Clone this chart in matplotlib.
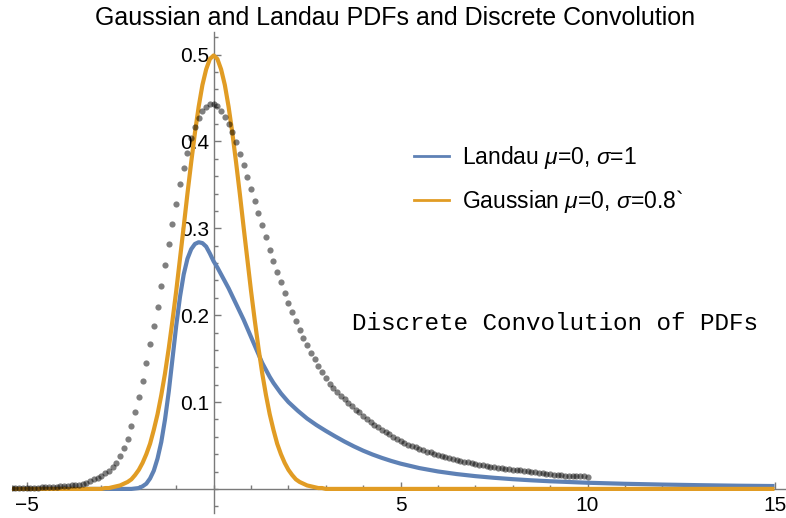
import numpy as np
import matplotlib
matplotlib.use("Agg")
import matplotlib.pyplot as plt
from matplotlib.lines import Line2D
from matplotlib.ticker import MultipleLocator

plt.rcParams['font.family'] = ['Liberation Sans', 'DejaVu Sans']
plt.rcParams['mathtext.fontset'] = 'custom'
plt.rcParams['mathtext.rm'] = 'Liberation Sans'
plt.rcParams['mathtext.it'] = 'Liberation Sans:italic'

# --- data ---
# Landau PDF (mu=0, sigma=1)
landau_x = [-5.4, -2.5, -2.2, -2.0, -1.9, -1.8, -1.7, -1.6, -1.5, -1.4,
            -1.3, -1.2, -1.1, -1.0, -0.9, -0.8, -0.7, -0.6, -0.5, -0.4,
            -0.3, -0.2, -0.1, 0.0, 0.1, 0.2, 0.3, 0.4, 0.5, 0.6,
            0.7, 0.8, 0.9, 1.0, 1.1, 1.2, 1.3, 1.4, 1.5, 1.6,
            1.7, 1.8, 1.9, 2.0, 2.25, 2.5, 2.75, 3.0, 3.25, 3.5,
            3.75, 4.0, 4.25, 4.5, 4.75, 5.0, 5.5, 6.0, 6.5, 7.0,
            7.5, 8.0, 8.5, 9.0, 10.0, 11.0, 12.0, 13.0, 14.0, 15.0]
landau_y = [0.0, 0.0, 0.0, 0.001, 0.003, 0.006, 0.012, 0.021, 0.035, 0.054,
            0.080, 0.112, 0.150, 0.188, 0.221, 0.247, 0.265, 0.276, 0.282, 0.284,
            0.283, 0.279, 0.271, 0.262, 0.255, 0.247, 0.239, 0.231, 0.222, 0.213,
            0.204, 0.195, 0.185, 0.175, 0.165, 0.155, 0.145, 0.137, 0.129, 0.122,
            0.116, 0.110, 0.105, 0.100, 0.090, 0.081, 0.0735, 0.0668, 0.0605, 0.0545,
            0.049, 0.0440, 0.0396, 0.0357, 0.0322, 0.0291, 0.0240, 0.0201, 0.0171, 0.0147,
            0.0128, 0.0112, 0.0099, 0.0088, 0.0071, 0.0059, 0.0050, 0.0043, 0.0037, 0.0033]

# Gaussian PDF (mu=0, sigma=0.8), sampled every 0.1 from -3 to 3, flat outside
gauss_x = [-5.4] + list(np.round(np.arange(-3.0, 3.01, 0.1), 1)) + [15.0]
gauss_y = [0.0,
           0.000, 0.001, 0.001, 0.002, 0.003, 0.004, 0.006, 0.008, 0.011, 0.016,
           0.022, 0.030, 0.040, 0.052, 0.068, 0.086, 0.108, 0.133, 0.162, 0.194,
           0.228, 0.265, 0.302, 0.340, 0.376, 0.410, 0.440, 0.465, 0.483, 0.495,
           0.499,
           0.495, 0.483, 0.465, 0.440, 0.410, 0.376, 0.340, 0.302, 0.265, 0.228,
           0.194, 0.162, 0.133, 0.108, 0.086, 0.068, 0.052, 0.040, 0.030, 0.022,
           0.016, 0.011, 0.008, 0.006, 0.004, 0.003, 0.002, 0.001, 0.001, 0.000,
           0.0]

# discrete convolution, one point every 0.1 from -5.4 to 10.0
conv_start = -5.4
conv_step = 0.1
conv_y = [0.001, 0.001, 0.001, 0.001, 0.001, 0.001, 0.001, 0.001, 0.002, 0.002,
          0.002, 0.002, 0.002, 0.003, 0.003, 0.003, 0.004, 0.004, 0.005, 0.006,
          0.007, 0.009, 0.011, 0.013, 0.015, 0.018, 0.021, 0.025, 0.030, 0.038,
          0.047, 0.058, 0.073, 0.089, 0.106, 0.124, 0.145, 0.167, 0.188, 0.210,
          0.234, 0.258, 0.282, 0.305, 0.328, 0.351, 0.370, 0.387, 0.404, 0.417,
          0.427, 0.435, 0.440, 0.443, 0.443, 0.441, 0.435, 0.428, 0.420, 0.411,
          0.399, 0.386, 0.373, 0.359, 0.345, 0.331, 0.318, 0.304, 0.290, 0.275,
          0.262, 0.250, 0.238, 0.225, 0.214, 0.204, 0.193, 0.183, 0.174, 0.166,
          0.157, 0.149, 0.142, 0.135, 0.128, 0.121, 0.116, 0.111, 0.107, 0.103,
          0.099, 0.095, 0.091, 0.088, 0.084, 0.080, 0.077, 0.074, 0.071, 0.068,
          0.065, 0.063, 0.060, 0.058, 0.055, 0.053, 0.051, 0.049, 0.048, 0.046,
          0.045, 0.043, 0.042, 0.040, 0.039, 0.038, 0.037, 0.036, 0.035, 0.0335,
          0.0325, 0.0315, 0.0305, 0.0295, 0.0285, 0.0278, 0.0271, 0.0264, 0.0257, 0.0251,
          0.0245, 0.0239, 0.0233, 0.0228, 0.0223, 0.0218, 0.0213, 0.0208, 0.0202, 0.0196,
          0.0190, 0.0184, 0.0178, 0.0173, 0.0168, 0.0164, 0.0160, 0.0157, 0.0154, 0.0151,
          0.0149, 0.0147, 0.0145, 0.0143, 0.0141]
conv_x = np.round(conv_start + conv_step * np.arange(len(conv_y)), 1)

x_major = [-5, 5, 10, 15]
y_major = [0.1, 0.2, 0.3, 0.4, 0.5]

landau_label = r'Landau $\mu$=0, $\sigma$=1'
gauss_label = r'Gaussian $\mu$=0, $\sigma$=0.8`'
title = 'Gaussian and Landau PDFs and Discrete Convolution'
note = 'Discrete Convolution of PDFs'

# Mathematica default colours
BLUE = '#5E81B5'
ORANGE = '#E19C24'
AXIS = '#7a7a7a'

fig = plt.figure(figsize=(7.86, 5.18), dpi=100)
ax = fig.add_axes([0.0149, 0.0097, 0.9838, 0.9285])

ax.plot(landau_x, landau_y, color=BLUE, lw=3, solid_capstyle='butt', zorder=3)
ax.plot(gauss_x, gauss_y, color=ORANGE, lw=3, solid_capstyle='butt', zorder=4)
ax.scatter(conv_x, conv_y, s=20, color='black', alpha=0.5, linewidths=0, zorder=5)

ax.set_xlim(-5.4, 15.28)
ax.set_ylim(-0.0277, 0.526)

# axes through the origin, Mathematica style
for side in ['top', 'right']:
    ax.spines[side].set_visible(False)
ax.spines['left'].set_position(('data', 0))
ax.spines['bottom'].set_position(('data', 0))
for side in ['left', 'bottom']:
    ax.spines[side].set_color(AXIS)
    ax.spines[side].set_linewidth(1)
    ax.spines[side].set_zorder(2)

ax.set_xticks(x_major)
ax.set_xticklabels([str(v) if v >= 0 else '\u2212' + str(-v) for v in x_major])
ax.xaxis.set_minor_locator(MultipleLocator(1))
ax.set_yticks(y_major)
ax.set_yticklabels(['%.1f' % v for v in y_major])
ax.yaxis.set_minor_locator(MultipleLocator(0.02))

ax.tick_params(which='both', direction='in', color=AXIS, labelsize=15, width=1)
ax.tick_params(which='major', length=5)
ax.tick_params(which='minor', length=3)
ax.tick_params(axis='x', pad=5)
ax.tick_params(axis='y', pad=3)

handles = [Line2D([], [], color=BLUE, lw=2),
           Line2D([], [], color=ORANGE, lw=2)]
ax.legend(handles, [landau_label, gauss_label], loc='upper left',
          bbox_to_anchor=(0.527, 0.722), bbox_transform=fig.transFigure,
          frameon=False, fontsize=16.5, handlelength=1.5, handletextpad=0.6,
          labelspacing=0.75, borderpad=0, borderaxespad=0)

ax.text(3.70, 0.183, note, family='Liberation Mono', fontsize=17.5,
        ha='left', va='baseline', zorder=6)

fig.text(395 / 786, 1 - 18 / 518, title, fontsize=18, ha='center', va='center')

plt.savefig('out.png', dpi=100)
plt.close()
